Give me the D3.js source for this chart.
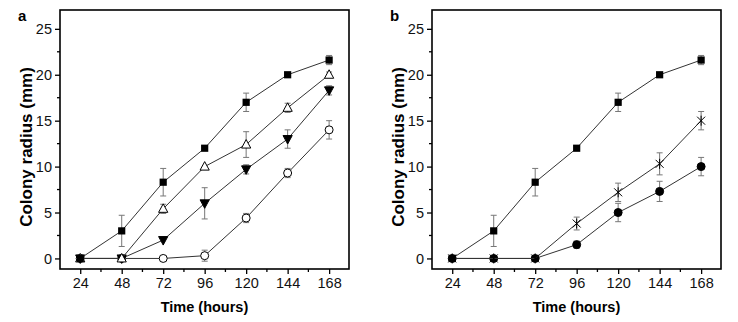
<!doctype html>
<html>
<head>
<meta charset="utf-8">
<title>Colony radius</title>
<script src="https://cdn.jsdelivr.net/npm/d3@7"></script>
<style>
  body { margin: 0; background: #fff; }
  text { font-family: Arial, "Liberation Sans", sans-serif; }
</style>
</head>
<body>
<svg width="738" height="322"></svg>
<script>
// hours on the x axis
var hours = [24, 48, 72, 96, 120, 144, 168];
var xTicks = [24, 48, 72, 96, 120, 144, 168];
var yTicks = [0, 5, 10, 15, 20, 25];

// mean colony radius (mm) and error for each series
var squareVals = [0, 3, 8.3, 12, 17, 20, 21.6];
var squareErr = [0, 1.7, 1.5, 0.2, 1, 0.2, 0.5];

var triUpVals = [0, 0, 5.4, 10, 12.4, 16.4, 20];
var triUpErr = [0, 0, 0.5, 0.2, 1.4, 0.5, 0.3];

var triDownVals = [0, 0, 2, 6, 9.7, 13, 18.3];
var triDownErr = [0, 0, 0.2, 1.7, 0.5, 1, 0.5];

var openCircVals = [0, 0, 0, 0.3, 4.4, 9.3, 14];
var openCircErr = [0, 0, 0, 0.6, 0.5, 0.5, 1];

var starVals = [0, 0, 0, 3.8, 7.2, 10.3, 15];
var starErr = [0, 0, 0, 0.7, 1, 1.2, 1];

var dotVals = [0, 0, 0, 1.5, 5, 7.3, 10];
var dotErr = [0, 0, 0, 0.4, 1, 1.1, 1];

function zip(vals, errs) {
    return hours.map(function(h, i) { return { x: h, y: vals[i], e: errs[i] }; });
}

var panels = [
    { label: "a", left: 60, series: [
        { data: zip(openCircVals, openCircErr), shape: "circle", fill: "#fff" },
        { data: zip(triDownVals, triDownErr), shape: "triDown", fill: "#000" },
        { data: zip(triUpVals, triUpErr), shape: "triUp", fill: "#fff" },
        { data: zip(squareVals, squareErr), shape: "square", fill: "#000" }
    ]},
    { label: "b", left: 432, series: [
        { data: zip(dotVals, dotErr), shape: "circle", fill: "#000" },
        { data: zip(starVals, starErr), shape: "star", fill: "none" },
        { data: zip(squareVals, squareErr), shape: "square", fill: "#000" }
    ]}
];

var svg = d3.select("svg");
var plotTop = 10, plotBottom = 269, plotW = 289;

panels.forEach(function(p) {
    var g = svg.append("g").attr("transform", "translate(" + p.left + ",0)");

    var x = d3.scaleLinear().domain([12.3, 179.5]).range([0, plotW]);
    var y = d3.scaleLinear().domain([-1.15, 27.05]).range([plotBottom, plotTop]);

    // minor ticks
    var xMinor = d3.range(36, 168, 24);
    g.selectAll(".xminor").data(xMinor).enter().append("line")
        .attr("x1", function(d) { return x(d); }).attr("x2", function(d) { return x(d); })
        .attr("y1", plotBottom).attr("y2", plotBottom + 3)
        .attr("stroke", "#000").attr("stroke-width", 1.3);
    var yMinor = [2.5, 7.5, 12.5, 17.5, 22.5];
    g.selectAll(".yminor").data(yMinor).enter().append("line")
        .attr("x1", 0).attr("x2", -3)
        .attr("y1", function(d) { return y(d); }).attr("y2", function(d) { return y(d); })
        .attr("stroke", "#000").attr("stroke-width", 1.3);

    var xAxis = g.append("g").attr("transform", "translate(0," + plotBottom + ")")
        .call(d3.axisBottom(x).tickValues(xTicks).tickSize(5).tickPadding(4));
    var yAxis = g.append("g")
        .call(d3.axisLeft(y).tickValues(yTicks).tickSize(5).tickPadding(3));
    [xAxis, yAxis].forEach(function(a) {
        a.select(".domain").remove();
        a.selectAll("line").attr("stroke", "#000").attr("stroke-width", 1.3);
        a.selectAll("text").attr("font-size", 14.5).attr("fill", "#111")
            .style("font-family", "Arial, 'Liberation Sans', sans-serif");
    });

    // frame
    g.append("rect").attr("x", 0).attr("y", plotTop).attr("width", plotW).attr("height", plotBottom - plotTop)
        .attr("fill", "none").attr("stroke", "#000").attr("stroke-width", 1.6);

    var line = d3.line().x(function(d) { return x(d.x); }).y(function(d) { return y(d.y); });

    p.series.forEach(function(s) {
        // error bars
        var eb = s.data.filter(function(d) { return d.e > 0.25; });
        var bars = g.append("g").attr("stroke", "#777").attr("stroke-width", 1);
        eb.forEach(function(d) {
            var cx = x(d.x);
            bars.append("line").attr("x1", cx).attr("x2", cx)
                .attr("y1", y(d.y - d.e)).attr("y2", y(d.y + d.e));
            [d.y - d.e, d.y + d.e].forEach(function(v) {
                bars.append("line").attr("x1", cx - 3).attr("x2", cx + 3)
                    .attr("y1", y(v)).attr("y2", y(v));
            });
        });

        g.append("path").attr("d", line(s.data))
            .attr("fill", "none").attr("stroke", "#333").attr("stroke-width", 1);

        var m = g.append("g");
        s.data.forEach(function(d) {
            var cx = x(d.x), cy = y(d.y);
            if (s.shape === "square") {
                m.append("rect").attr("x", cx - 3.6).attr("y", cy - 3.6)
                    .attr("width", 7.2).attr("height", 7.2).attr("fill", "#000");
            } else if (s.shape === "circle") {
                m.append("circle").attr("cx", cx).attr("cy", cy).attr("r", 4)
                    .attr("fill", s.fill).attr("stroke", "#000").attr("stroke-width", 1);
            } else if (s.shape === "triUp") {
                m.append("path").attr("d", "M" + cx + "," + (cy - 5) + "L" + (cx + 4.6) + "," + (cy + 3.5) + "L" + (cx - 4.6) + "," + (cy + 3.5) + "Z")
                    .attr("fill", "#fff").attr("stroke", "#000").attr("stroke-width", 1);
            } else if (s.shape === "triDown") {
                m.append("path").attr("d", "M" + cx + "," + (cy + 5) + "L" + (cx + 4.6) + "," + (cy - 3.5) + "L" + (cx - 4.6) + "," + (cy - 3.5) + "Z")
                    .attr("fill", "#000").attr("stroke", "#000").attr("stroke-width", 1);
            } else if (s.shape === "star") {
                m.append("path")
                    .attr("d", "M" + (cx - 4) + "," + (cy - 4) + "L" + (cx + 4) + "," + (cy + 4) +
                        "M" + (cx - 4) + "," + (cy + 4) + "L" + (cx + 4) + "," + (cy - 4) +
                        "M" + cx + "," + (cy - 5) + "L" + cx + "," + (cy + 5))
                    .attr("stroke", "#000").attr("stroke-width", 1).attr("fill", "none");
            }
        });
    });

    // axis titles
    g.append("text").attr("x", plotW / 2).attr("y", 312)
        .attr("text-anchor", "middle").attr("font-size", 14.5).attr("font-weight", "bold")
        .text("Time (hours)");
    g.append("text").attr("transform", "translate(-28,147) rotate(-90)")
        .attr("text-anchor", "middle").attr("font-size", 17).attr("font-weight", "bold")
        .text("Colony radius (mm)");
    g.append("text").attr("x", -42).attr("y", 21)
        .attr("font-size", 15).attr("font-weight", "bold").text(p.label);
});
</script>
</body>
</html>
